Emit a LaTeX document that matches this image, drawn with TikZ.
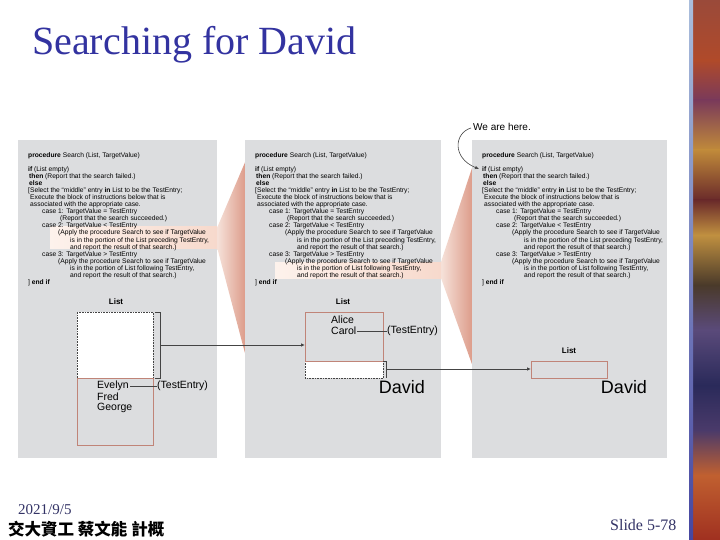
\documentclass[tikz,border=0pt]{standalone}
\usepackage{fontspec}
\setmainfont{Liberation Serif}
\setsansfont{Liberation Sans}
\newfontfamily\cjk{Noto Sans CJK TC}
\usetikzlibrary{arrows.meta,calc}
\definecolor{panelgray}{HTML}{DCDDDF}
\definecolor{boxred}{HTML}{C08478}
\definecolor{wedgeL}{HTML}{F6E2DA}
\definecolor{wedgeR}{HTML}{DC9A88}
\definecolor{hlL}{HTML}{FDF2EC}
\definecolor{hlR}{HTML}{F7D9CC}
\definecolor{linegray}{HTML}{444444}
\definecolor{titleblue}{HTML}{3333A0}
\definecolor{navy}{HTML}{333366}
\newcommand{\srchcode}{%
\textbf{procedure} Search (List, TargetValue)\\
\mbox{}\\
\textbf{if} (List empty)\\
\hspace*{1pt}\textbf{then} (Report that the search failed.)\\
\hspace*{1pt}\textbf{else}\\
{[}Select the ``middle'' entry \textbf{in} List to be the TestEntry;\\
\hspace*{2pt}Execute the block of instructions below that is\\
\hspace*{2pt}associated with the appropriate case.\\
\hspace*{14pt}case 1: TargetValue = TestEntry\\
\hspace*{32pt}(Report that the search succeeded.)\\
\hspace*{14pt}case 2: TargetValue < TestEntry\\
\hspace*{30pt}(Apply the procedure Search to see if TargetValue\\
\hspace*{42pt}is in the portion of the List preceding TestEntry,\\
\hspace*{42pt}and report the result of that search.)\\
\hspace*{14pt}case 3: TargetValue > TestEntry\\
\hspace*{30pt}(Apply the procedure Search to see if TargetValue\\
\hspace*{42pt}is in the portion of List following TestEntry,\\
\hspace*{42pt}and report the result of that search.)\\
\hspace*{0pt}] \textbf{end if}}
\begin{document}
\begin{tikzpicture}[x=1pt,y=-1pt,
  panelbox/.style={fill=panelgray, draw=none, inner sep=0pt, anchor=north west},
  code/.style={font=\sffamily\fontsize{6.7}{7.08}\selectfont, align=left, anchor=north west, inner sep=0pt},
  listlab/.style={font=\sffamily\bfseries\fontsize{8}{8}\selectfont, inner sep=0pt},
  nm/.style={font=\sffamily\fontsize{10.5}{10.5}\selectfont, anchor=west, inner sep=0pt},
  listbox/.style={draw=boxred, line width=0.8pt, fill=panelgray, inner sep=0pt, anchor=north west},
  dotbox/.style={draw=linegray, line width=0.6pt, dash pattern=on 0.8pt off 0.8pt, fill=white, inner sep=0pt, anchor=north west},
  conn/.style={draw=linegray, line width=0.8pt},
  thinconn/.style={draw=linegray, line width=0.6pt},
  arr/.style={conn, -{Latex[length=4pt,width=3.5pt]}},
  david/.style={font=\sffamily\fontsize{18}{18}\selectfont, inner sep=0pt},
  wedge/.style={left color=wedgeL, right color=wedgeR, draw=none},
  hl/.style={left color=hlL, right color=hlR, draw=none}
]
\useasboundingbox (0,0) rectangle (720,540);
\fill[white] (0,0) rectangle (720,540);

% right decorative strip
\shade[top color={rgb,255:red,154;green,74;blue,58}, bottom color={rgb,255:red,176;green,74;blue,42}] (693,0) rectangle (720,60);
\shade[top color={rgb,255:red,176;green,74;blue,42}, bottom color={rgb,255:red,122;green,58;blue,90}] (693,60) rectangle (720,100);
\shade[top color={rgb,255:red,122;green,58;blue,90}, bottom color={rgb,255:red,192;green,138;blue,58}] (693,100) rectangle (720,150);
\shade[top color={rgb,255:red,192;green,138;blue,58}, bottom color={rgb,255:red,106;green,42;blue,42}] (693,150) rectangle (720,200);
\shade[top color={rgb,255:red,106;green,42;blue,42}, bottom color={rgb,255:red,192;green,144;blue,64}] (693,200) rectangle (720,235);
\shade[top color={rgb,255:red,192;green,144;blue,64}, bottom color={rgb,255:red,74;green,58;blue,42}] (693,235) rectangle (720,285);
\shade[top color={rgb,255:red,74;green,58;blue,42}, bottom color={rgb,255:red,90;green,74;blue,122}] (693,285) rectangle (720,330);
\shade[top color={rgb,255:red,90;green,74;blue,122}, bottom color={rgb,255:red,42;green,42;blue,90}] (693,330) rectangle (720,385);
\shade[top color={rgb,255:red,42;green,42;blue,90}, bottom color={rgb,255:red,74;green,58;blue,106}] (693,385) rectangle (720,430);
\shade[top color={rgb,255:red,74;green,58;blue,106}, bottom color={rgb,255:red,192;green,96;blue,48}] (693,430) rectangle (720,475);
\shade[top color={rgb,255:red,192;green,96;blue,48}, bottom color={rgb,255:red,160;green,48;blue,32}] (693,475) rectangle (720,540);
\shade[top color={rgb,255:red,170;green,190;blue,220}, bottom color={rgb,255:red,70;green,70;blue,160}] (689,0) rectangle (693,540);

% title and footer
\node[anchor=base west, inner sep=0pt, font=\fontsize{40}{40}\selectfont, text=titleblue] (title) at (32,55) {Searching for David};
\node[anchor=base west, inner sep=0pt, font=\fontsize{15}{15}\selectfont, text=navy] (date) at (18,514) {2021/9/5};
\node[anchor=base west, inner sep=0pt, font=\cjk\bfseries\fontsize{16.5}{16.5}\selectfont] (author) at (8,535) {交大資工 蔡文能 計概};
\node[anchor=base west, inner sep=0pt, font=\fontsize{16}{16}\selectfont, text=navy] (slide) at (610,530) {Slide 5-78};

% wedges
\shade[wedge] (217,228) -- (246,160) -- (246,357) -- (217,247) -- cycle;
\shade[wedge] (441,262) -- (473,165) -- (473,367) -- (441,278) -- cycle;

% panels
\node[panelbox, minimum width=199pt, minimum height=318pt] (p1) at (18,140) {};
\node[panelbox, minimum width=196pt, minimum height=318pt] (p2) at (245,140) {};
\node[panelbox, minimum width=195pt, minimum height=318pt] (p3) at (472,140) {};

% highlights
\shade[hl] (50,227) rectangle (217,248);
\shade[hl] (275,262) rectangle (441,278);

% code
\node[code] (c1) at (28,152) {\srchcode};
\node[code] (c2) at (255,152) {\srchcode};
\node[code] (c3) at (482,152) {\srchcode};

% panel 1 list
\node[listlab] (L1) at (116,302) {List};
\node[dotbox, minimum width=76pt, minimum height=66pt] (d1) at (77,312) {};
\node[listbox, minimum width=76pt, minimum height=67pt] (r1) at (77,378) {};
\node[nm] (ev) at (97,386) {Evelyn};
\node[nm] (fr) at (97,397) {Fred};
\node[nm] (ge) at (97,408) {George};
\node[nm] (te1) at (157,386) {(TestEntry)};
\draw[thinconn, shorten <=1pt] (ev.east) -- (te1.west);

% panel 2 list
\node[listlab] (L2) at (343,302) {List};
\node[dotbox, minimum width=78pt, minimum height=17pt] (d2) at (305,361) {};
\node[listbox, minimum width=78pt, minimum height=49pt] (r2) at (305,312) {};
\node[nm] (al) at (331,320) {Alice};
\node[nm] (ca) at (331,331) {Carol};
\node[nm] (te2) at (387,331) {(TestEntry)};
\draw[thinconn, shorten <=1pt] (ca.east) -- (te2.west);

% panel 3 list
\node[listlab] (L3) at (569,351) {List};
\node[listbox, minimum width=76pt, minimum height=17pt] (r3) at (531,361) {};

% brackets and arrows
\coordinate (b1a) at (155,312);
\coordinate (b1b) at (160,345);
\coordinate (b1c) at (155,378);
\draw[conn] (b1a) -- (b1a -| b1b) -- (b1c -| b1b) -- (b1c);
\draw[arr] (b1b) -- (b1b -| r2.west);
\coordinate (b2a) at (383,361);
\coordinate (b2b) at (386,369);
\coordinate (b2c) at (386,378);
\draw[conn] (b2a) -- (b2a -| b2b) -- (b2c);
\draw[arr] (b2b) -- (b2b -| r3.west);

% David labels
\node[david] (dv2) at (402,387) {David};
\node[david] (dv3) at (624,387) {David};

% We are here
\node[nm, font=\sffamily\fontsize{10}{10}\selectfont] (we) at (473,127) {We are here.};
\coordinate (here) at (479,169);
\draw[thinconn, -{Latex[length=4pt,width=3.5pt]}] ($(we.west)+(-2,1)$) .. controls (454,133) and (452,158) .. (here);
\end{tikzpicture}
\end{document}
